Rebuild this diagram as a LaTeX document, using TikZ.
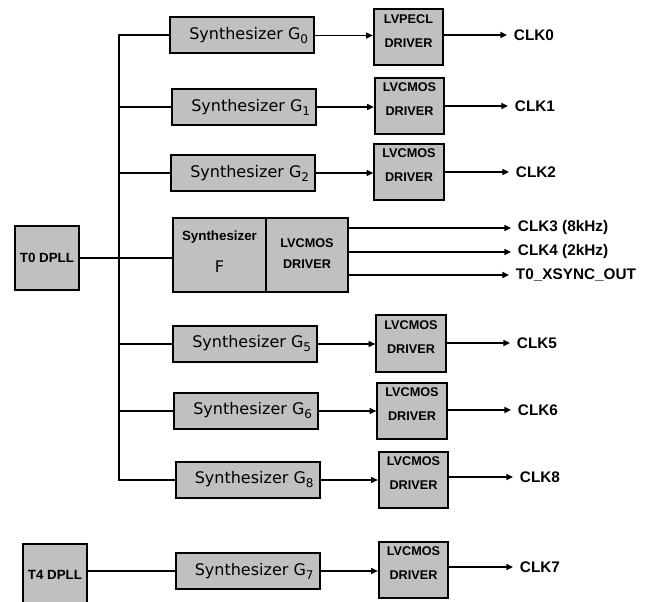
\documentclass[tikz,border=0pt]{standalone}
\usepackage{fontspec}
\usetikzlibrary{positioning, arrows.meta}
\newfontfamily\synfont{DejaVu Sans}
\newfontfamily\clkfont{Liberation Sans}
\definecolor{boxgray}{HTML}{C0C0C0}
\newcommand{\drvlabel}[1]{\raisebox{4pt}[\height][\depth]{\begin{tabular}{@{}c@{}}#1\\[7pt]DRIVER\end{tabular}}}
\newcommand{\synlabel}[1]{\hspace*{10pt}Synthesizer G\raisebox{-3pt}{\fontsize{9}{10}\selectfont #1}}

\begin{document}
\begin{tikzpicture}[
    x=0.75pt, y=-0.75pt,
    box/.style={draw, line width=1.5pt, fill=boxgray, inner sep=0pt},
    synth/.style={box, minimum width=108pt, minimum height=27pt,
                  font=\synfont\fontsize{12}{14}\selectfont},
    drv/.style={box, minimum width=52pt, minimum height=42pt,
                font=\clkfont\bfseries\fontsize{9.5}{11}\selectfont},
    dpll/.style={box, minimum width=48pt, minimum height=48pt,
                 font=\clkfont\bfseries\fontsize{10}{12}\selectfont},
    bus/.style={line width=1.5pt},
    feed/.style={line width=0.8pt, -{Triangle[length=5pt,width=4.5pt]}},
    clkout/.style={line width=1.1pt, -{Triangle[length=5pt,width=4.5pt]}},
    clk/.style={anchor=west, inner xsep=5pt, inner ysep=0pt,
                font=\clkfont\bfseries\fontsize{11.5}{13}\selectfont}
]
\useasboundingbox (0,0) rectangle (646,602);

% DPLLs
\node[dpll] (t0) at (47,258) {T0 DPLL};
\node[dpll, minimum height=46pt] (t4) at (55,575) {T4 DPLL};

% Synthesizers
\node[synth] (g0) at (242,35.5) {\synlabel{0}};
\node[synth] (g1) at (244,107) {\synlabel{1}};
\node[synth] (g2) at (243,173) {\synlabel{2}};
\node[synth] (g5) at (245,344) {\synlabel{5}};
\node[synth] (g6) at (246,411) {\synlabel{6}};
\node[synth] (g8) at (247.5,480) {\synlabel{8}};
\node[synth] (g7) at (247.5,571) {\synlabel{7}};

% Synthesizer F with its own driver
\node[box, minimum width=69.75pt, minimum height=55.5pt, align=center,
      font=\synfont\fontsize{12}{14}\selectfont] (fsyn) at (219.5,255)
     {\raisebox{2pt}[\height][\depth]{\begin{tabular}{@{}c@{}}{\clkfont\bfseries\fontsize{10}{12}\selectfont Synthesizer}\\[10pt]F\end{tabular}}};
\node[drv, minimum width=61.5pt, minimum height=55.5pt] (fdrv) at (307,255)
     {\begin{tabular}{@{}c@{}}LVCMOS\\[5pt]DRIVER\end{tabular}};

% Drivers
\node[drv] (d0) at (408.5,37.5) {\drvlabel{LVPECL}};
\node[drv] (d1) at (409.5,106) {\drvlabel{LVCMOS}};
\node[drv] (d2) at (409,172) {\drvlabel{LVCMOS}};
\node[drv] (d5) at (411,343.5) {\drvlabel{LVCMOS}};
\node[drv] (d6) at (412,410.5) {\drvlabel{LVCMOS}};
\node[drv] (d8) at (413.5,479.5) {\drvlabel{LVCMOS}};
\node[drv] (d7) at (413.5,569.5) {\drvlabel{LVCMOS}};

% Outputs
\node[clk] (c0) at (507,35) {CLK0};
\node[clk] (c1) at (508,106) {CLK1};
\node[clk] (c2) at (509,172) {CLK2};
\node[clk] (c3) at (511,228) {CLK3 (8kHz)};
\node[clk] (c4) at (511,252) {CLK4 (2kHz)};
\node[clk] (cx) at (509,275) {T0\_XSYNC\_OUT};
\node[clk] (c5) at (510,343) {CLK5};
\node[clk] (c6) at (511,410) {CLK6};
\node[clk] (c8) at (513,477) {CLK8};
\node[clk] (c7) at (513,567) {CLK7};

% Bus from T0 DPLL
\coordinate (bus) at (119,0);
\draw[bus] (g0.west) -- (g0.west -| bus) -- (g8.west -| bus) -- (g8.west);
\foreach \g in {g1,g2,g5}
    \draw[bus] (\g.west -| bus) -- (\g.west);
\draw[line width=0.8pt] (g6.west -| bus) -- (g6.west);
\draw[bus] (t0.east) -- (t0.east -| fsyn.west);
\draw[bus] (t4.east |- g7.west) -- (g7.west);

% Synthesizer to driver
\foreach \g/\d in {g0/d0, g1/d1, g2/d2, g5/d5, g6/d6, g8/d8, g7/d7}
    \draw[feed] (\g.east) -- (\g.east -| \d.west);

% Driver to clock outputs
\foreach \d/\c in {d0/c0, d1/c1, d2/c2, d5/c5, d6/c6, d8/c8, d7/c7}
    \draw[clkout] (\d.east |- \c.west) -- (\c.west);
\foreach \c in {c3,c4,cx}
    \draw[clkout] (fdrv.east |- \c.west) -- (\c.west);

\end{tikzpicture}
\end{document}
